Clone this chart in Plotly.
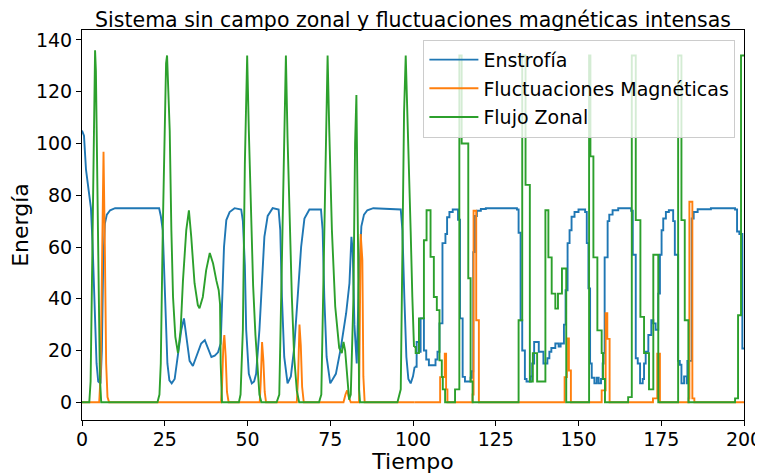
import plotly.graph_objects as go

# ---------------- data ----------------
# Smooth part of each series (time, value)
ENS_SMOOTH = [(0, 105), (0.6, 103), (1.2, 90), (1.9, 82), (2.7, 75), (3.2, 61), (3.9, 35), (4.4, 15),
              (4.9, 8), (5.6, 7.3), (6.0, 20), (6.4, 53), (6.9, 69), (7.5, 72.5), (8.5, 74.2), (10, 75),
              (23.3, 75), (23.8, 72), (24.4, 66.5), (25.1, 40.7), (25.8, 15), (26.4, 8.5), (27.1, 7.3),
              (28.0, 9), (29.0, 19), (30.0, 28), (30.8, 32.4), (31.5, 25), (32.5, 16), (33.5, 14),
              (34.5, 17.5), (36.0, 22.7), (37.1, 24), (38.1, 20.8), (39.1, 17.5), (40.1, 18), (41.1, 19.3),
              (41.9, 22.7), (42.3, 40.7), (42.9, 60), (43.6, 70.4), (44.6, 73.5), (46.1, 75), (48.1, 74.5),
              (48.6, 70), (49.2, 53), (49.6, 28), (50.4, 11), (51.3, 7.3), (52.0, 8), (52.6, 11),
              (53.6, 28), (54.4, 47), (55.1, 63.9), (56.1, 72), (57.6, 75), (59.4, 74.5), (59.9, 66.5),
              (60.4, 40.7), (61.1, 17.5), (62.1, 7.3), (63.1, 10), (64.1, 21), (65.2, 40.7), (66.2, 60),
              (67.2, 71), (68.7, 74.5), (72.2, 74.5), (72.7, 66.5), (73.2, 40.7), (73.9, 17.5), (75.0, 7.3),
              (76.7, 11), (78.2, 21), (79.8, 34.4), (80.8, 46), (81.4, 63.9), (81.8, 58), (82.3, 30),
              (83.0, 15), (83.6, 45), (84.4, 68), (85.2, 72.5), (86.2, 74.2), (88, 75), (96.3, 74.5),
              (96.8, 66.5), (97.4, 40), (98.0, 17.5), (98.6, 9), (99.3, 7.3), (100.0, 10), (100.5, 13.7)]

MAG_SMOOTH = [(0, 0), (5.2, 0), (5.6, 10), (6.0, 55), (6.5, 96.8), (6.9, 60), (7.3, 15), (7.7, 2), (8.2, 0),
              (42.0, 0), (42.3, 6), (42.7, 22), (43.0, 26), (43.4, 18), (43.8, 4), (44.3, 0),
              (53.7, 0), (54.0, 8), (54.4, 23.3), (54.8, 16), (55.2, 4), (55.6, 0),
              (64.9, 0), (65.3, 10), (65.7, 30), (66.1, 22), (66.5, 6), (67.0, 0),
              (79.0, 0), (79.6, 3), (80.1, 4.6), (80.6, 2), (81.2, 0),
              (83.7, 0), (84.0, 40), (84.2, 65), (84.7, 55), (85.0, 10), (85.4, 0), (100.5, 0)]

ZON_SMOOTH = [(0, 0), (2.2, 0), (2.6, 8), (3.0, 45), (3.4, 100), (3.75, 132), (3.95, 136), (4.2, 128),
              (4.6, 90), (5.0, 40), (5.4, 10), (5.8, 0),
              (22.8, 0), (23.4, 3), (23.8, 15), (24.4, 66.5), (24.9, 102), (25.4, 131), (25.7, 134),
              (26.1, 122), (26.5, 105), (27.0, 66.5), (27.5, 40.7), (28.2, 25.3), (29.0, 19), (29.8, 28),
              (30.5, 47), (31.5, 66.5), (32.3, 74.2), (33.0, 64), (34.0, 46), (35.0, 37.5), (35.5, 36.3),
              (36.5, 40.7), (37.5, 51), (38.6, 57.7), (39.6, 53.6), (40.6, 47), (41.3, 43.3), (41.7, 38),
              (41.9, 15), (42.3, 0),
              (47.4, 0), (47.9, 3), (48.6, 28), (49.2, 92), (49.6, 125), (49.9, 134), (50.4, 105),
              (51.0, 75), (51.7, 45), (52.4, 26), (53.0, 12), (53.6, 3), (54.2, 0),
              (58.8, 0), (59.6, 3), (60.4, 53), (61.1, 105), (61.6, 134), (62.1, 102), (62.6, 78),
              (63.4, 40.7), (64.1, 17.5), (64.9, 4.5), (65.6, 0),
              (71.6, 0), (72.3, 3), (73.2, 66.5), (73.7, 102), (74.2, 134), (74.7, 105), (75.5, 66.5),
              (76.5, 37), (77.7, 21), (78.5, 19), (79.0, 23.3), (79.5, 20), (80.2, 9), (80.7, 1),
              (81.2, 3), (82.0, 40), (82.5, 100), (82.9, 118.7), (83.4, 60), (83.7, 5), (84.0, 0),
              (95.3, 0), (96.3, 5), (96.8, 56), (97.3, 112), (97.8, 134), (98.5, 105), (99.3, 66),
              (99.8, 40.7), (100.3, 21.4)]

# Step-like part of each series (time, value held until next time)
ENS_STEP = [(100.5, 13.7), (101.1, 23.3), (101.8, 19.5), (102.3, 32.4), (103.3, 20), (104.0, 16.5),
            (104.8, 14.3), (106.8, 16.5), (107.4, 19.5), (108.0, 30.5), (108.9, 61.5), (109.8, 65),
            (110.3, 71.5), (111.0, 73.5), (112.0, 74.5), (113.6, 70.5), (114.2, 32.4), (115.0, 9.8),
            (115.7, 8), (117.4, 9.5), (117.8, 12), (118.2, 58), (118.7, 72), (119.3, 74), (120.5, 74.7),
            (122.0, 75), (131.4, 74.5), (131.9, 65.5), (132.5, 31.7), (133.0, 20), (133.8, 9), (134.3, 8),
            (135.6, 10), (136.0, 15), (136.6, 23.3), (138.0, 19.5), (139.4, 15), (140.6, 17),
            (141.2, 19.5), (141.8, 21), (143.0, 22.7), (144.0, 21.5), (144.6, 22.7), (145.6, 30),
            (146.1, 43.3), (146.7, 61.5), (147.3, 66.5), (147.9, 71.7), (148.8, 73.5), (150.0, 74.5),
            (152.0, 73.5), (152.5, 61.5), (153.0, 44), (153.5, 15), (154.0, 9.5), (154.8, 7.3),
            (155.5, 9.5), (156.1, 7.3), (156.8, 9), (157.3, 15), (157.6, 19), (157.9, 56), (158.8, 70),
            (159.3, 72.5), (160.3, 74.2), (162.0, 75), (165.9, 74), (166.4, 57), (167.3, 17), (167.9, 15),
            (168.6, 7.3), (169.4, 9), (169.8, 15), (170.3, 19.5), (171.1, 26), (172.0, 31.7),
            (172.6, 30.5), (173.3, 28), (174.1, 42), (174.6, 57), (175.1, 66.5), (175.6, 71),
            (176.4, 73.5), (177.3, 74.2), (178.6, 70), (179.1, 57), (180.1, 16), (180.6, 14.5),
            (181.1, 7.3), (181.9, 10), (182.7, 7.3), (182.9, 16), (184.2, 71), (184.8, 73.5),
            (186.0, 74.6), (190.0, 75), (197.3, 74.5), (197.9, 66), (198.6, 65), (199.5, 20.8), (200, 20.8)]

MAG_STEP = [(100.5, 0), (108.2, 9.7), (109.6, 18.8), (110.0, 5), (110.4, 0), (118.0, 3), (118.3, 74),
            (119.1, 31.7), (119.9, 0), (145.8, 9.7), (146.5, 24.7), (147.1, 12.3), (147.7, 0),
            (157.0, 4.6), (158.2, 34.4), (158.7, 24.5), (159.4, 0), (172.5, 1.5), (173.8, 18.8),
            (174.6, 0), (183.3, 1.5), (183.5, 77.5), (184.4, 1.5), (185.0, 0), (200, 0)]

ZON_STEP = [(100.3, 21.4), (100.8, 19), (101.8, 32.4), (103.3, 62.6), (104.1, 74.2), (105.3, 56.2),
            (106.3, 40.7), (107.2, 35.6), (108.0, 16.2), (108.7, 9.8), (109.0, 5), (109.7, 0),
            (112.7, 5), (114.0, 134), (114.7, 100), (116.7, 47.9), (117.4, 8), (118.0, 0),
            (131.9, 31.7), (133.0, 134), (134.0, 84), (135.3, 8), (136.2, 19), (137.5, 8),
            (140.0, 74.2), (140.9, 56), (141.9, 42), (143.0, 36.2), (143.8, 42), (145.0, 51.7),
            (146.3, 0), (153.2, 134), (153.6, 95), (154.5, 56), (155.7, 27.8), (157.0, 19), (157.4, 9),
            (158.0, 0), (165.0, 2), (166.1, 134), (167.3, 70.4), (168.7, 33), (169.8, 19), (171.3, 5),
            (172.6, 57), (174.1, 0), (180.1, 134), (181.1, 70.4), (182.1, 31.7), (183.2, 0),
            (197.3, 1.5), (198.2, 33.6), (199.1, 134), (200, 134)]

SERIES_NAMES = ["Enstrofía", "Fluctuaciones Magnéticas", "Flujo Zonal"]
X_TICKS = [0, 25, 50, 75, 100, 125, 150, 175, 200]
Y_TICKS = [0, 20, 40, 60, 80, 100, 120, 140]

COLORS = ["#1f77b4", "#ff7f0e", "#2ca02c"]
LW = 1.9

fig = go.Figure()
series = [(ENS_SMOOTH, ENS_STEP), (MAG_SMOOTH, MAG_STEP), (ZON_SMOOTH, ZON_STEP)]
for i, (smooth, step) in enumerate(series):
    ts, vs = zip(*smooth)
    fig.add_trace(go.Scatter(x=list(ts), y=list(vs), mode="lines", name=SERIES_NAMES[i],
                             legendgroup=SERIES_NAMES[i],
                             line=dict(color=COLORS[i], width=LW, shape="linear")))
    tt, vv = zip(*step)
    fig.add_trace(go.Scatter(x=list(tt), y=list(vv), mode="lines", name=SERIES_NAMES[i],
                             legendgroup=SERIES_NAMES[i], showlegend=False,
                             line=dict(color=COLORS[i], width=LW, shape="hv")))

axis_common = dict(ticks="outside", ticklen=5, tickwidth=1, tickcolor="black",
                   showline=True, linecolor="black", linewidth=1, mirror=True,
                   showgrid=False, zeroline=False, automargin=False,
                   tickfont=dict(size=19, color="black"))

# the page adds an 8 px body margin, so the figure is sized 755x466
W, H = 755, 466
fig.update_layout(
    width=W, height=H,
    margin=dict(l=74, r=19, t=22, b=54),
    paper_bgcolor="white", plot_bgcolor="white",
    font=dict(family="DejaVu Sans", size=19, color="black"),
    title=dict(text="Sistema sin campo zonal y fluctuaciones magnéticas intensas",
               x=0.5, xref="paper", xanchor="center", y=1 - 11.5 / H, yref="container",
               yanchor="middle", font=dict(size=20.5, color="black")),
    xaxis=dict(range=[0, 200], tickvals=X_TICKS, ticklabelstandoff=-3,
               title=dict(text="Tiempo", font=dict(size=22), standoff=0),
               **axis_common),
    yaxis=dict(range=[-6.85, 143.85], tickvals=Y_TICKS,
               title=dict(text="Energía", font=dict(size=22), standoff=10),
               **axis_common),
    legend=dict(x=0.987, xanchor="right", y=0.975, yanchor="top",
                bgcolor="rgba(255,255,255,0.8)", bordercolor="#cccccc", borderwidth=1,
                font=dict(size=19), traceorder="grouped", tracegroupgap=1, itemwidth=49),
    showlegend=True,
)

fig.write_html("out.html")
